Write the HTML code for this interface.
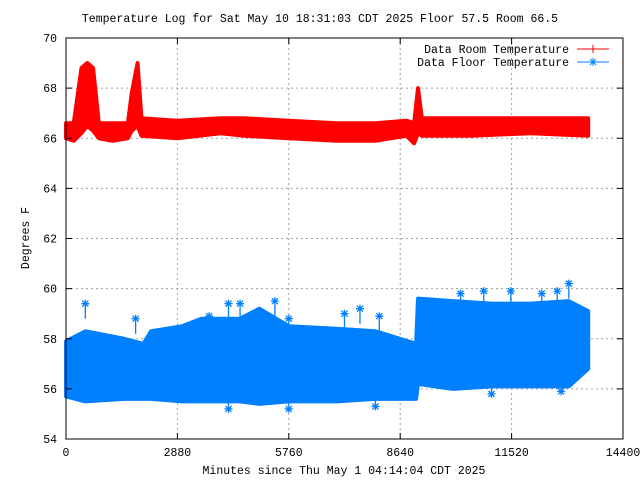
<!DOCTYPE html>
<html><head><meta charset="utf-8"><style>
body{margin:0;background:#fff}
svg text{font-family:"Liberation Mono",monospace;font-size:11.5px;fill:#000}
</style></head><body>
<svg width="640" height="480" id="c">
<rect x="0" y="0" width="640" height="480" fill="#fff"/>
<text x="320" y="22" text-anchor="middle">Temperature Log for Sat May 10 18:31:03 CDT 2025 Floor 57.5 Room 66.5</text>
<text x="344" y="474" text-anchor="middle">Minutes since Thu May 1 04:14:04 CDT 2025</text>
<text transform="translate(29,238) rotate(-90)" text-anchor="middle">Degrees F</text>
<g id="grid"></g><g id="series"></g><g id="axes"></g>
<g>
<text x="569" y="53" text-anchor="end">Data Room Temperature</text>
<line x1="577" y1="49" x2="609" y2="49" stroke="#f00" stroke-width="1"/>
<path d="M593 45v8M589 49h8" stroke="#f00"/>
<text x="569" y="66" text-anchor="end">Data Floor Temperature</text>
<line x1="577" y1="62" x2="609" y2="62" stroke="#0080ff"/>
<path d="M593 58v8M589 62h8M590 59l6 6M596 59l-6 6" stroke="#0080ff"/>
</g>
</svg>
<script>
const xTicks=[0,2880,5760,8640,11520,14400];
const yTicks=[54,56,58,60,62,64,66,68,70];
const roomT=[0,200,400,550,700,850,1200,1600,1700,1850,1950,2880,4000,4600,5760,7000,8000,8800,9000,9100,9200,10500,12000,13500];
const roomLo=[66.0,65.9,66.2,66.5,66.3,66.0,65.9,66.0,66.3,66.5,66.1,66.0,66.2,66.1,66.0,65.9,65.9,66.1,65.8,66.2,66.1,66.1,66.2,66.1];
const roomHi=[66.6,66.6,68.8,69.0,68.8,66.6,66.6,66.6,67.8,69.0,66.8,66.7,66.8,66.8,66.7,66.6,66.6,66.7,66.6,68.0,66.8,66.8,66.8,66.8];
const floorT=[0,500,1500,2000,2200,3000,3500,4500,5000,5760,7000,8000,9050,9100,10000,11000,12000,13000,13500];
const floorLo=[55.7,55.5,55.6,55.6,55.6,55.5,55.5,55.5,55.4,55.5,55.5,55.6,55.6,56.2,56.0,56.1,56.1,56.1,56.8];
const floorHi=[57.9,58.3,58.0,57.8,58.3,58.5,58.8,58.8,59.2,58.5,58.4,58.3,57.8,59.6,59.5,59.4,59.4,59.5,59.1];
const spikeT=[500,1800,3700,4200,4500,5400,5760,7200,7600,8100,10200,10800,11500,12300,12700,13000,4200,5760,8000,11000,12800];
const spikeV=[59.4,58.8,58.9,59.4,59.4,59.5,58.8,59.0,59.2,58.9,59.8,59.9,59.9,59.8,59.9,60.2,55.2,55.2,55.3,55.8,55.9];
const L=66,R=623,T=38,B=439;
const sx=t=>L+(t/14400)*(R-L);
const sy=v=>B-((v-54)/16)*(B-T);
const NS='http://www.w3.org/2000/svg';
function mk(tag,attrs,parent){const e=document.createElementNS(NS,tag);for(const k in attrs)e.setAttribute(k,attrs[k]);parent.appendChild(e);return e;}
const grid=document.getElementById('grid'),axes=document.getElementById('axes'),ser=document.getElementById('series');
xTicks.forEach((t,i)=>{
 if(i>0&&i<xTicks.length-1){const g=mk('line',{x1:sx(t),x2:sx(t),y1:T,y2:B,stroke:'#a0a0a0','stroke-dasharray':'2,3'},grid);
 
 }
 const tk=mk('path',{d:`M${sx(t)} ${B}v-6M${sx(t)} ${T}v6`,stroke:'#000'},axes);
 
 
 const lb=mk('text',{x:sx(t),y:B+17,'text-anchor':'middle'},axes);lb.textContent=t;
 
 
});
yTicks.forEach((v,i)=>{
 if(i>0&&i<yTicks.length-1){const g=mk('line',{x1:L,x2:R,y1:sy(v),y2:sy(v),stroke:'#a0a0a0','stroke-dasharray':'2,3'},grid);
 
 }
 const tk=mk('path',{d:`M${L} ${sy(v)}h6M${R} ${sy(v)}h-6`,stroke:'#000'},axes);
 
 
 const lb=mk('text',{x:57,y:sy(v)+4,'text-anchor':'end'},axes);lb.textContent=v;
 
 
});
const fr=mk('rect',{x:L,y:T,width:R-L,height:B-T,fill:'none',stroke:'#000'},axes);


function band(ts,lo,hi,color,name){
 let d='M'+ts.map((t,i)=>sx(t)+' '+sy(hi[i])).join('L');
 for(let i=ts.length-1;i>=0;i--)d+='L'+sx(ts[i])+' '+sy(lo[i]);
 d+='Z';
 const p=mk('path',{d:d,fill:color,stroke:color,'stroke-width':4,'stroke-linejoin':'round'},ser);
 
 
}
band(floorT,floorLo,floorHi,'#0080ff','floor-temperature-series');
band(roomT,roomLo,roomHi,'#ff0000','room-temperature-series');
spikeT.forEach((t,i)=>{
 const x=sx(t),y=sy(spikeV[i]);
 const m=mk('path',{d:`M${x} ${y-4}v8M${x-4} ${y}h8M${x-3} ${y-3}l6 6M${x+3} ${y-3}l-6 6M${x} ${y}V${sy(spikeV[i]>57?spikeV[i]-0.6:spikeV[i]+0.4)}`,stroke:'#0080ff','stroke-width':1.3},ser);
 
 
});
</script>
</body></html>
